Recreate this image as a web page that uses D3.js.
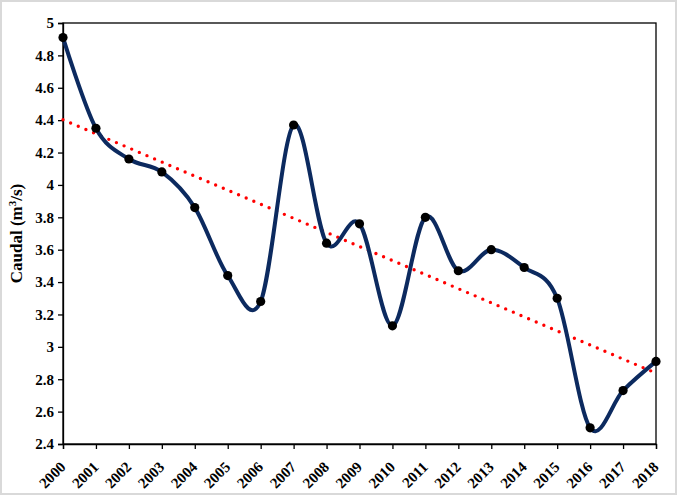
<!DOCTYPE html>
<html><head><meta charset="utf-8">
<script src="https://cdn.jsdelivr.net/npm/d3@7"></script>
<style>
html,body{margin:0;padding:0;background:#fff;}
svg{display:block;}
</style></head>
<body>
<svg id="chart" width="678" height="497"></svg>
<script>
const years = [2000,2001,2002,2003,2004,2005,2006,2007,2008,2009,2010,2011,2012,2013,2014,2015,2016,2017,2018];
const caudal = [4.91,4.35,4.16,4.08,3.86,3.44,3.28,4.37,3.64,3.76,3.13,3.80,3.47,3.60,3.49,3.30,2.50,2.73,2.91];
const yTicks = [2.4,2.6,2.8,3,3.2,3.4,3.6,3.8,4,4.2,4.4,4.6,4.8,5];
const yLabel = "Caudal (m";
const yLabelSup = "3";
const yLabelEnd = "/s)";

const W = 678, H = 497;
const m = {left:63, right:22, top:23, bottom:53};
const svg = d3.select("#chart");
svg.append("rect").attr("x",1).attr("y",1).attr("width",W-3).attr("height",H-4)
  .attr("fill","#fff").attr("stroke","#d9d9d9").attr("stroke-width",2);

const x = d3.scalePoint().domain(years).range([m.left, W-m.right]);
const y = d3.scaleLinear().domain([2.4,5]).range([H-m.bottom, m.top]);

const font = "'Liberation Serif','Times New Roman',serif";

// plot box
svg.append("rect").attr("x",m.left).attr("y",m.top)
  .attr("width",W-m.right-m.left).attr("height",H-m.bottom-m.top)
  .attr("fill","none").attr("stroke","#000").attr("stroke-width",1.3);

// y axis
const ya = svg.append("g").attr("transform",`translate(${m.left},0)`)
  .call(d3.axisLeft(y).tickValues(yTicks).tickSize(5).tickPadding(4).tickFormat(d=>d3.format("")(+d.toFixed(1))));
ya.select(".domain").attr("stroke","#000").attr("stroke-width",1.3);
ya.selectAll(".tick line").attr("stroke","#000").attr("stroke-width",1.3);
ya.selectAll("text").attr("font-family",font).attr("font-weight","bold").attr("font-size",15).attr("fill","#000");

// x axis
const xa = svg.append("g").attr("transform",`translate(0,${H-m.bottom})`)
  .call(d3.axisBottom(x).tickSize(5).tickFormat(d=>String(d)));
xa.select(".domain").attr("stroke","#000").attr("stroke-width",1.3);
xa.selectAll(".tick line").attr("stroke","#000").attr("stroke-width",1.3);
xa.selectAll("text").attr("font-family",font).attr("font-weight","bold").attr("font-size",15).attr("fill","#000")
  .attr("text-anchor","end").attr("dy",null).attr("y",0)
  .attr("transform","translate(3,24) rotate(-45)");

// y label
const yl = svg.append("text").attr("transform",`translate(22,${(m.top+H-m.bottom)/2}) rotate(-90)`)
  .attr("text-anchor","middle").attr("font-family",font).attr("font-weight","bold").attr("font-size",17).attr("fill","#000");
yl.append("tspan").text(yLabel);
yl.append("tspan").attr("font-size",11).attr("dy",-6).text(yLabelSup);
yl.append("tspan").attr("dy",6).text(yLabelEnd);

// trend line (least squares)
const n = years.length;
const mx = d3.mean(years), my = d3.mean(caudal);
const slope = d3.sum(years.map((v,i)=>(v-mx)*(caudal[i]-my))) / d3.sum(years.map(v=>(v-mx)*(v-mx)));
const icpt = my - slope*mx;
const tr = [years[0], years[n-1]];
svg.append("line").attr("x1",x(tr[0])).attr("y1",y(icpt+slope*tr[0]))
  .attr("x2",x(tr[1])).attr("y2",y(icpt+slope*tr[1]))
  .attr("stroke","#ff0000").attr("stroke-width",3.4).attr("stroke-linecap","round")
  .attr("stroke-dasharray","0 8.3");

// smoothed line
const line = d3.line().x((d,i)=>x(years[i])).y(d=>y(d)).curve(d3.curveCardinal.tension(0));
svg.append("path").attr("d",line(caudal)).attr("fill","none").attr("stroke","#0c2a5f").attr("stroke-width",4);

svg.append("g").selectAll("circle").data(caudal).join("circle")
  .attr("cx",(d,i)=>x(years[i])).attr("cy",d=>y(d)).attr("r",4.6).attr("fill","#000");
</script>
</body></html>
